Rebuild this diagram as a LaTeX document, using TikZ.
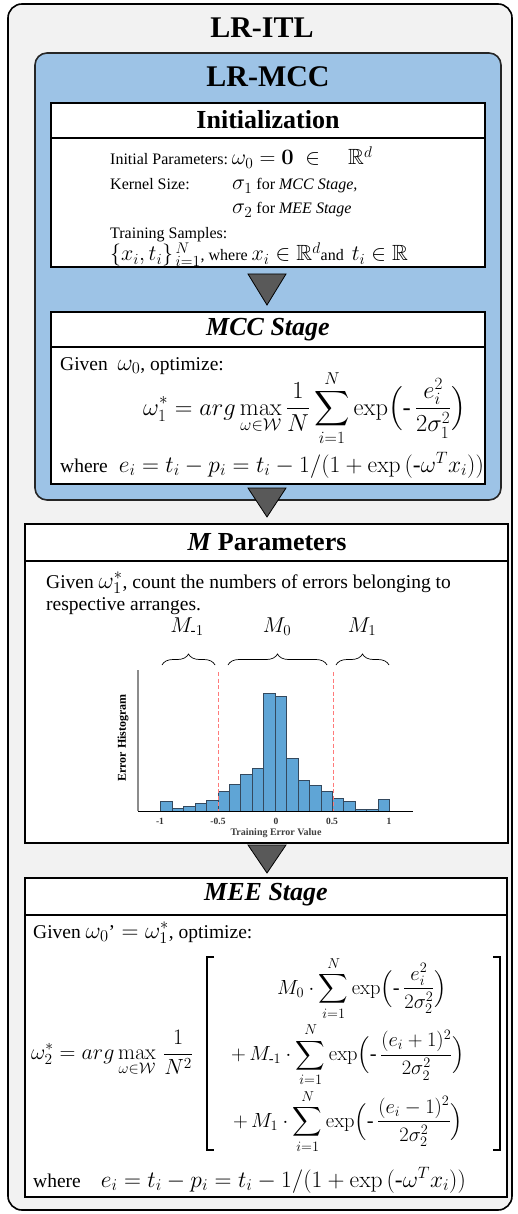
\RequirePackage{fix-cm}
\documentclass[tikz,border=0pt]{standalone}
\usepackage{amsmath,amssymb}
\usepackage[no-math]{fontspec}
\setmainfont{Liberation Serif}
\usetikzlibrary{decorations.pathreplacing}
\definecolor{outerbg}{HTML}{F2F2F2}
\definecolor{mccblue}{HTML}{9DC3E6}
\definecolor{tricol}{HTML}{595959}
\definecolor{barcol}{HTML}{5FA5D6}
\definecolor{baredge}{HTML}{34495E}
\definecolor{cutcol}{HTML}{FF7A7A}
\newcommand\mth[1]{{\fontsize{23.5}{26}\selectfont$#1$}}
\newcommand\imth[1]{{\fontsize{22}{24}\selectfont$#1$}}
\tikzset{
  x=1pt, y=-1pt,
  outerbox/.style={draw=black, line width=1.6pt, fill=outerbg, rounded corners=14pt},
  bluebox/.style={draw=black!85, line width=1.6pt, fill=mccblue, rounded corners=12pt},
  stagebox/.style={draw=black, line width=1.4pt, fill=white},
  sep/.style={draw=black, line width=1.2pt},
  bigtitle/.style={font=\fontsize{30}{34}\selectfont\bfseries, inner sep=0pt},
  stagetitle/.style={font=\fontsize{26}{30}\selectfont\bfseries, inner sep=0pt},
  initbody/.style={font=\fontsize{16}{20}\selectfont, anchor=base west, inner sep=0pt},
  body/.style={font=\fontsize{19.5}{23}\selectfont, anchor=base west, inner sep=0pt},
  mathnode/.style={font=\fontsize{24.5}{28}\selectfont, inner sep=0pt},
  mlab/.style={font=\fontsize{21.5}{24}\selectfont, inner sep=0pt, anchor=base},
  bigmath/.style={font=\fontsize{22}{25}\selectfont, inner sep=0pt},
  rowmath/.style={font=\fontsize{20.5}{23}\selectfont, inner sep=0pt, anchor=base},
  sqbr/.style={draw=black, line width=1.1pt},
  tri/.style={draw=black, line width=0.8pt, fill=tricol},
  histbar/.style={draw=baredge, line width=0.5pt, fill=barcol},
  cutline/.style={draw=cutcol, line width=0.7pt, dash pattern=on 4pt off 2.5pt},
  brc/.style={draw=black, line width=0.7pt, decorate, decoration={brace, amplitude=11pt}},
  ticklab/.style={font=\fontsize{9.5}{11}\selectfont\bfseries, inner sep=0pt, text=black!80},
  axlab/.style={font=\fontsize{10}{12}\selectfont\bfseries, inner sep=0pt, text=black!75},
  ylab/.style={font=\fontsize{12}{14}\selectfont\bfseries, inner sep=0pt, rotate=90}
}
\begin{document}
\begin{tikzpicture}
\useasboundingbox (0,0) rectangle (517,1214);
% outer box
\draw[outerbox] (8,4) rectangle (512,1210);
\node[bigtitle] (itl) at (262,28) {LR-ITL};
% blue LR-MCC box
\draw[bluebox] (35,53) rectangle (501,500);
\node[bigtitle] (mcc) at (268,77) {LR-MCC};
% Initialization
\draw[stagebox] (51,103) rectangle (485,267);
\draw[sep] (51,138) -- (485,138);
\node[stagetitle] (initt) at (268,120) {Initialization};
\node[initbody] (l1) at (110,165) {Initial Parameters:\ \imth{\omega_0=\mathbf{0}\ \in\quad\mathbb{R}^d}};
\node[initbody] (l2) at (110,190) {Kernel Size:};
\node[initbody] (l2b) at (232,190) {\imth{\sigma_1}\ for \textit{MCC Stage,}};
\node[initbody] (l3) at (232,214) {\imth{\sigma_2}\ for \textit{MEE Stage}};
\node[initbody] (l4) at (110,239) {Training Samples:};
\node[initbody] (l5) at (110,261) {\imth{\{x_i,t_i\}_{\,i=1}^{\,N}}, where \imth{x_i\in\mathbb{R}^d}and\ \ \imth{t_i\in\mathbb{R}}};
% triangle 1
\draw[tri] (248,274) -- (286,274) -- (267,305) -- cycle;
% MCC stage
\draw[stagebox] (51,312) rectangle (485,484);
\draw[sep] (51,347) -- (485,347);
\node[stagetitle] (mcct) at (268,330) {\textit{MCC Stage}};
\node[body] (g1) at (60,370) {Given\ \ \mth{\omega_0}, optimize:};
\node[mathnode, anchor=base west] (f1) at (143,415) {$\displaystyle \omega_1^*=arg\max_{\omega\in\mathcal{W}}\frac{1}{N}\sum_{i=1}^{N}\exp\Bigl(\text{-}\,\frac{e_i^2}{2\sigma_1^2}\Bigr)$};
\node[body] (w1) at (60,472) {where\hspace{11pt}\mth{e_i=t_i-p_i=t_i-1/(1+\exp{(\text{-}\omega^T x_i)})}};
% triangle 2
\draw[tri] (248,488) -- (286,488) -- (267,517) -- cycle;
% M parameters
\draw[stagebox] (25,524) rectangle (508,843);
\draw[sep] (25,561) -- (508,561);
\node[stagetitle] (mpt) at (267,542) {\textit{M} Parameters};
\node[body] (m1) at (46,588) {Given \mth{\omega_1^*}, count the numbers of errors belonging to};
\node[body] (m2) at (46,610) {respective arranges.};
\node[mlab] (mm1) at (187,632) {$M_{\text{-}1}$};
\node[mlab] (mm0) at (277,632) {$M_0$};
\node[mlab] (mp1) at (362,632) {$M_1$};
\draw[brc] (162,665) -- (215,665);
\draw[brc] (228,665) -- (327,665);
\draw[brc] (336,665) -- (389,665);
% histogram
\foreach \h [count=\i from 0] in {9.3,2.7,5,7.7,10.7,20,26.3,36.7,43,117.7,115,52.7,30.3,25.7,19.7,12.7,9.7,1.7,1.7,11.7}{
  \pgfmathsetmacro\xa{160.5+\i*11.45}
  \draw[histbar] (\xa,811) rectangle ++(11.45,-\h);
}
\draw[cutline] (218,672) -- (218,811);
\draw[cutline] (333,672) -- (333,811);
\draw[black!45, line width=1.4pt] (138,670) -- (138,811);
\draw[black, line width=0.7pt] (138,811) -- (413,811);
\node[ticklab] (tk1) at (160,821) {-1};
\node[ticklab] (tk2) at (218,821) {-0.5};
\node[ticklab] (tk3) at (276,821) {0};
\node[ticklab] (tk4) at (332,821) {0.5};
\node[ticklab] (tk5) at (389,821) {1};
\node[axlab] (xl) at (276,833) {Training Error Value};
\node[ylab] (yl) at (123,738) {Error Histogram};
% triangle 3
\draw[tri] (248,845) -- (286,845) -- (267,873) -- cycle;
% MEE stage
\draw[stagebox] (25,878) rectangle (507,1197);
\draw[sep] (25,915) -- (507,915);
\node[stagetitle] (meet) at (266,895) {\textit{MEE Stage}};
\node[body] (g2) at (33,938) {Given \mth{\omega_0}’\mth{{}=\omega_1^*}, optimize:};
\node[bigmath, anchor=base west] (f2) at (31,1059.5) {$\displaystyle \omega_2^*=arg\max_{\omega\in\mathcal{W}}\,\frac{1}{N^2}$};
\draw[sqbr] (214,957) -- (207,957) -- (207,1150) -- (214,1150);
\draw[sqbr] (493,957) -- (500,957) -- (500,1150) -- (493,1150);
\node[rowmath] (r1) at (362,994) {$\displaystyle M_0\cdot\sum_{i=1}^{N}\exp\Bigl(\text{-}\,\frac{e_i^2}{2\sigma_2^2}\Bigr)$};
\node[rowmath] (r2) at (348,1060.5) {$\displaystyle +\,M_{\text{-}1}\cdot\sum_{i=1}^{N}\exp\Bigl(\text{-}\,\frac{(e_i+1)^2}{2\sigma_2^2}\Bigr)$};
\node[rowmath] (r3) at (348,1127) {$\displaystyle +\,M_1\cdot\sum_{i=1}^{N}\exp\Bigl(\text{-}\,\frac{(e_i-1)^2}{2\sigma_2^2}\Bigr)$};
\node[body] (w2) at (33,1187) {where\hspace{20pt}\mth{e_i=t_i-p_i=t_i-1/(1+\exp{(\text{-}\omega^T x_i)})}};
\end{tikzpicture}
\end{document}
